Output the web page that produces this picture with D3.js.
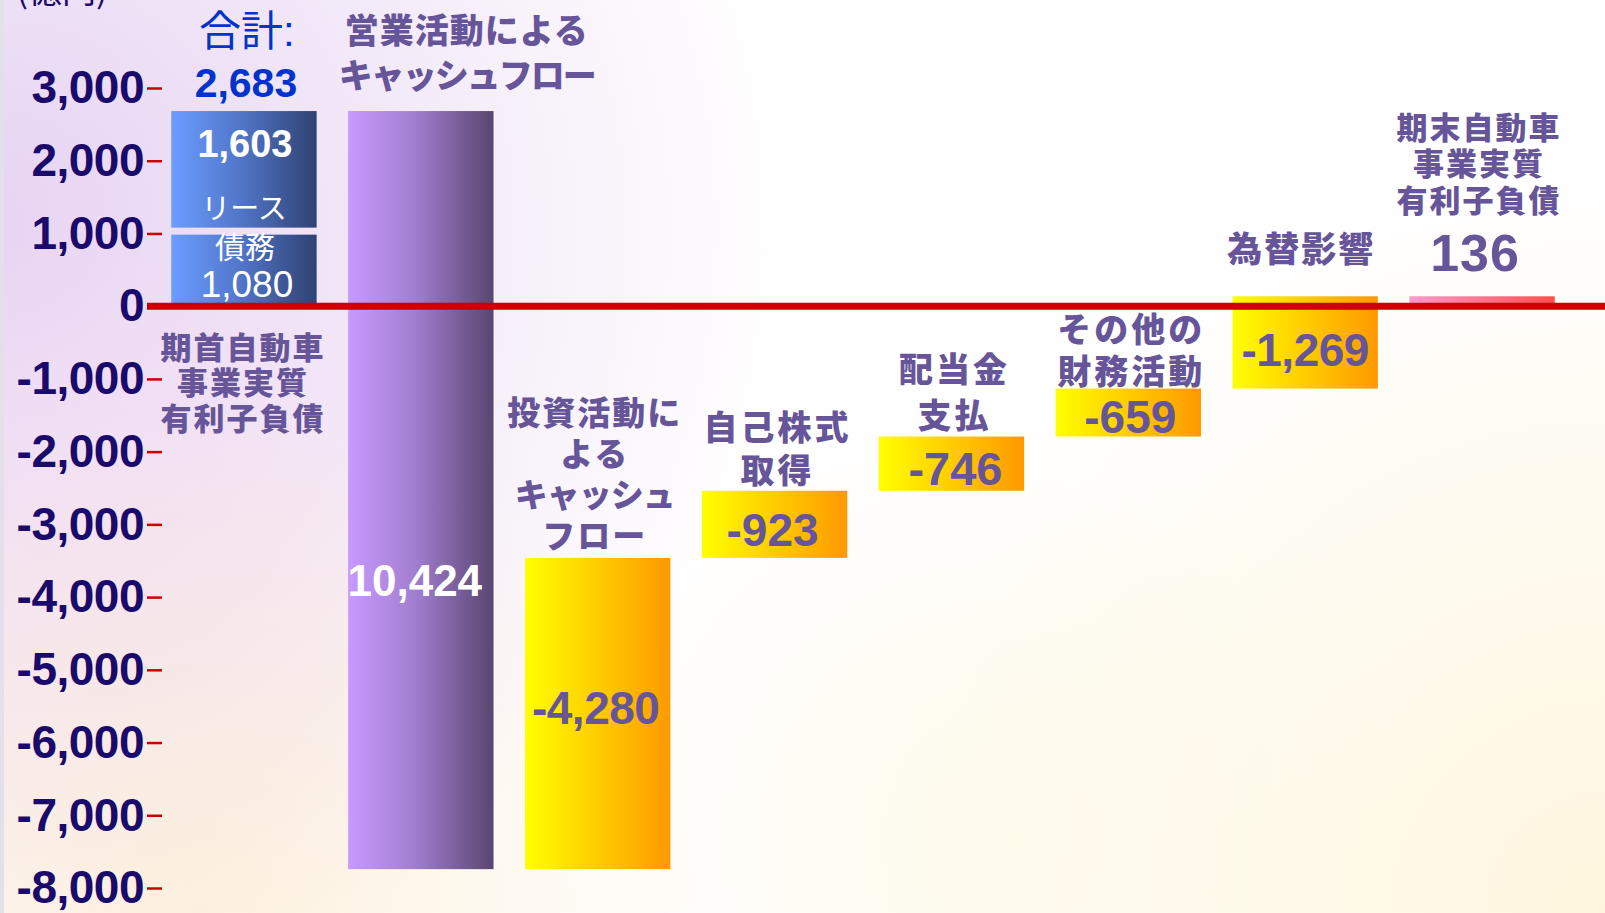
<!DOCTYPE html>
<html><head><meta charset="utf-8">
<script src="https://cdn.jsdelivr.net/npm/d3@7"></script>
<style>html,body{margin:0;padding:0;overflow:hidden;background:#fff}</style>
</head><body><svg id="c" width="1605" height="913"></svg>
<script>
// ---------------- data ----------------
const categories = ["期首","営業CF","投資CF","自己株式取得","配当金支払","その他財務","為替影響","期末"];
const categoryLines = [
  ["期首自動車","事業実質","有利子負債"],
  ["営業活動による","キャッシュフロー"],
  ["投資活動に","よる","キャッシュ","フロー"],
  ["自己株式","取得"],
  ["配当金","支払"],
  ["その他の","財務活動"],
  ["為替影響"],
  ["期末自動車","事業実質","有利子負債"]
];
const openingParts = [1080, 1603];          // 債務 (lower), upper block
const openingPartLabels = ["1,080", "1,603"];
const openingTotalLabel = "2,683";
const flowValues = [10424, -4280, -923, -746, -659, -1269]; // cash flows reducing debt
const flowLabels = ["10,424", "-4,280", "-923", "-746", "-659", "-1,269"];
const closingValue = 136;
const closingLabel = "136";
const yTicks = [3000, 2000, 1000, 0, -1000, -2000, -3000, -4000, -5000, -6000, -7000, -8000];
const yDomain = [-8000, 3000];
const unitLabel = "(億円)";

// ---------------- setup ----------------
const W = 1605, H = 913;
const svg = d3.select("#c");
const defs = svg.append("defs");
const JP = "'Noto Sans CJK JP','Noto Sans CJK SC',sans-serif";
const JPL = "'Liberation Sans','Noto Sans CJK JP','Noto Sans CJK SC',sans-serif";
const LAT = "'Liberation Sans',Arial,sans-serif";
const LABEL_COL = "#665599";

function lin(id, stops) {
  const g = defs.append("linearGradient").attr("id", id)
    .attr("x1", "0%").attr("x2", "100%").attr("y1", "0%").attr("y2", "0%");
  stops.forEach(([o, c]) => g.append("stop").attr("offset", o).attr("stop-color", c));
}
lin("gBlue", [[0, "#6a9dff"], [0.45, "#5378cc"], [1, "#2f4272"]]);
lin("gPurple", [[0, "#c899ff"], [0.45, "#a27fd0"], [1, "#5a4571"]]);
lin("gYellow", [[0, "#ffff00"], [0.5, "#ffcc00"], [1, "#ff9900"]]);
lin("gPink", [[0, "#ff99cc"], [1, "#ff4f4f"]]);

function rad(id, cx, cy, r, color, op) {
  const g = defs.append("radialGradient").attr("id", id)
    .attr("gradientUnits", "userSpaceOnUse").attr("cx", cx).attr("cy", cy).attr("r", r);
  g.append("stop").attr("offset", 0).attr("stop-color", color).attr("stop-opacity", op);
  g.append("stop").attr("offset", 1).attr("stop-color", color).attr("stop-opacity", 0);
}
rad("bg1", 0, 230, 780, "#e6d3f3", 1);
rad("bg2", 120, 560, 420, "#f6def3", 0.55);
rad("bg3", 200, 913, 520, "#fcebc8", 0.6);
rad("bg4", 1605, 913, 720, "#fff1c8", 0.6);
rad("bg5", 1000, 840, 420, "#fff7dc", 0.5);

const bg = svg.append("g");
bg.append("rect").attr("width", W).attr("height", H).attr("fill", "#fffefe");
["bg1", "bg2", "bg3", "bg4", "bg5"].forEach(id =>
  bg.append("rect").attr("width", W).attr("height", H).attr("fill", `url(#${id})`));
bg.append("rect").attr("x", 0).attr("y", 0).attr("width", 4).attr("height", H).attr("fill", "#e2e0ea");

// ---------------- scales ----------------
const y = d3.scaleLinear().domain(yDomain).range([888, 88]);
const x = d3.scaleBand().domain(categories).range([155.5, 1570.5])
  .paddingInner(0.178).paddingOuter(0.089);
const bw = x.bandwidth();
const cx = i => x(categories[i]) + bw / 2;

// ---------------- waterfall geometry ----------------
const openingTotal = d3.sum(openingParts);
let level = openingTotal;
const flows = flowValues.map((v, i) => {
  const start = level, end = level - v;
  level = end;
  return { cat: categories[i + 1], lo: Math.min(start, end), hi: Math.max(start, end), v, label: flowLabels[i] };
});

// ---------------- axis ----------------
const axis = d3.axisLeft(y).tickValues(yTicks).tickSize(15).tickPadding(3)
  .tickFormat(d => d3.format(",")(d).replace("\u2212", "-"));
const ag = svg.append("g").attr("transform", "translate(162,0)").call(axis);
ag.select(".domain").remove();
ag.selectAll(".tick line").attr("stroke", "#cc0000").attr("stroke-width", 2.5);
ag.selectAll(".tick text").attr("fill", "#1a0a6b").attr("font-family", LAT)
  .attr("font-weight", "bold").attr("font-size", 46).attr("letter-spacing", -0.5);

svg.append("text").attr("x", 62).attr("y", 3).attr("text-anchor", "middle")
  .attr("font-family", JP).attr("font-size", 34).attr("fill", "#1a0a6b").text(unitLabel);

// ---------------- bars ----------------
const bars = svg.append("g");
const gapPx = 7;
bars.append("rect").attr("x", x(categories[0])).attr("width", bw)
  .attr("y", y(openingParts[0]) + gapPx).attr("height", y(0) - y(openingParts[0]) - gapPx)
  .attr("fill", "url(#gBlue)");
bars.append("rect").attr("x", x(categories[0])).attr("width", bw)
  .attr("y", y(openingTotal)).attr("height", y(openingParts[0]) - y(openingTotal))
  .attr("fill", "url(#gBlue)");
bars.selectAll("rect.flow").data(flows).join("rect").attr("class", "flow")
  .attr("x", d => x(d.cat)).attr("width", bw)
  .attr("y", d => y(d.hi)).attr("height", d => y(d.lo) - y(d.hi))
  .attr("fill", d => d.v > 0 ? "url(#gPurple)" : "url(#gYellow)");
bars.append("rect").attr("x", x(categories[7])).attr("width", bw)
  .attr("y", y(closingValue)).attr("height", y(0) - y(closingValue))
  .attr("fill", "url(#gPink)");

svg.append("line").attr("x1", 147).attr("x2", W).attr("y1", y(0)).attr("y2", y(0))
  .attr("stroke", "#cc0000").attr("stroke-width", 7);

// ---------------- labels ----------------
const lg = svg.append("g");
function txt(lines, px, ys, o) {
  if (!Array.isArray(lines)) { lines = [lines]; ys = [ys]; }
  const fam = o.jp ? JPL : LAT;
  lines.forEach((s, k) => {
    lg.append("text").attr("text-anchor", "middle")
      .attr("dominant-baseline", "central")
      .attr("font-family", fam).attr("font-weight", o.w || "bold")
      .attr("font-size", o.fs).attr("letter-spacing", o.lsLines ? o.lsLines[k] : (o.ls || 0))
      .attr("fill", o.fill || LABEL_COL)
      .attr("x", px).attr("y", ys[k] + (o.jp ? 1 : 0)).text(s);
  });
}
const JPW = 900;

// opening bar
const top0 = y(openingTotal), mid0 = y(openingParts[0]), z = y(0);
const c0 = cx(0) + 3;
txt("合計:", c0, top0 - 81, { jp: true, w: 400, fs: 42, fill: "#0033cc" });
txt(openingTotalLabel, c0 - 1, top0 - 28, { fs: 41, fill: "#0033cc" });
txt(openingPartLabels[1], c0 - 2, top0 + 33, { fs: 38, fill: "#ffffff" });
txt("リース", c0 - 3, mid0 - 20, { jp: true, w: 400, fs: 29, fill: "#ffffff" });
txt("債務", c0 - 2, mid0 + 19, { jp: true, w: 400, fs: 30, fill: "#ffffff" });
txt(openingPartLabels[0], c0, mid0 + 57, { w: "normal", fs: 37, fill: "#ffffff" });
txt(categoryLines[0], c0 - 4, categoryLines[0].map((_, k) => z + 41 + k * 35.5), { jp: true, w: JPW, fs: 31, ls: 2 });

// operating CF
const f0 = flows[0];
txt(categoryLines[1], cx(1) + 46, categoryLines[1].map((_, k) => y(f0.hi) - 81 + k * 45),
  { jp: true, w: JPW, fs: 34, lsLines: [1, -2] });
txt(f0.label, cx(1) - 6, (y(f0.hi) + y(f0.lo)) / 2 + 90, { fs: 44, fill: "#ffffff" });

// investing CF
const f1 = flows[1];
txt(categoryLines[2], cx(2) - 3, categoryLines[2].map((_, k) => y(f1.hi) - 145 + k * 41),
  { jp: true, w: JPW, fs: 33, lsLines: [2, 2, -1, 2] });
txt(f1.label, cx(2) - 2, (y(f1.hi) + y(f1.lo)) / 2 - 6, { fs: 46, ls: -0.5 });

// buyback, dividend, other
const smallCfg = [
  { i: 2, d: [-64, -21], v: 6, dx: 3, vdx: -2, fs: 46 },
  { i: 3, d: [-68, -22], v: 5, dx: 3, vdx: 4, fs: 47 },
  { i: 4, d: [-60, -18], v: 4, dx: 3, vdx: 2, fs: 46 }
];
smallCfg.forEach(c => {
  const f = flows[c.i];
  const ci = c.i + 1;
  txt(categoryLines[ci], cx(ci) + c.dx, c.d.map(d => y(f.hi) + d), { jp: true, w: JPW, fs: 34, ls: 3 });
  txt(f.label, cx(ci) + c.vdx, (y(f.hi) + y(f.lo)) / 2 + c.v, { fs: c.fs });
});

// FX
const f5 = flows[5];
txt(categoryLines[6][0], cx(6) - 4, z - 57.5, { jp: true, w: JPW, fs: 35, ls: 2 });
txt(f5.label, cx(6), (y(f5.hi) + y(f5.lo)) / 2 + 8, { fs: 46, ls: -0.5 });

// closing
txt(categoryLines[7], cx(7) - 3, categoryLines[7].map((_, k) => z - 179 + k * 36.5), { jp: true, w: JPW, fs: 31, ls: 2 });
txt(closingLabel, cx(7) - 7, z - 53, { fs: 52, ls: 1 });
</script>
</body></html>
